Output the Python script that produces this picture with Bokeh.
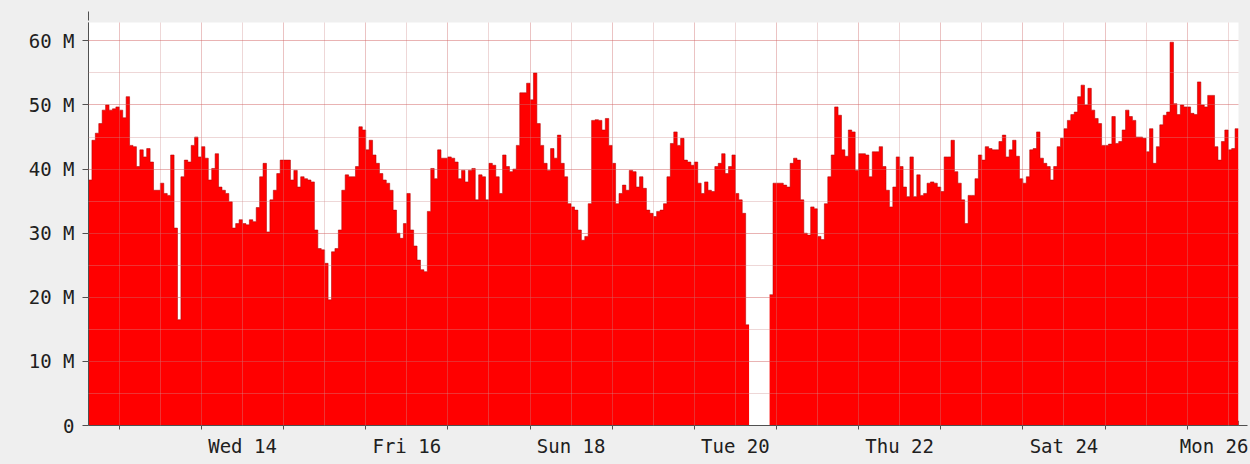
import numpy as np
from bokeh.plotting import figure
from bokeh.models import LinearAxis, FixedTicker, Grid, Range1d, Arrow, NormalHead
from bokeh.embed import file_html
from bokeh.resources import INLINE

# ---------------- data ----------------
# hourly traffic (millions), first hour starts 33 h before Wed 14 00:00
start_hour = -33
nan = float("nan")
traffic_M = [
    38.3, 44.5, 45.6, 47.1, 49.2, 50.0, 49.2, 49.4, 49.7, 49.2, 48.0, 51.3, 43.7, 43.5, 40.4, 43.0,
    41.9, 43.2, 41.1, 36.7, 36.7, 37.8, 36.2, 35.9, 42.2, 30.8, 16.5, 38.8, 41.4, 41.1, 43.7, 45.0,
    41.9, 43.5, 41.7, 38.3, 40.1, 42.4, 37.2, 36.7, 36.2, 34.9, 30.8, 31.5, 32.1, 31.5, 31.3, 32.1,
    31.8, 34.0, 38.8, 40.9, 30.2, 35.2, 36.7, 39.3, 41.4, 41.4, 41.4, 38.3, 39.8, 37.2, 38.8, 38.5,
    38.3, 38.0, 30.5, 27.6, 27.4, 25.3, 19.6, 27.1, 27.6, 30.5, 36.7, 39.1, 38.8, 38.8, 40.4, 46.6,
    46.1, 43.0, 44.5, 42.2, 40.9, 39.3, 38.3, 37.8, 36.7, 33.6, 30.0, 29.2, 31.5, 36.2, 30.5, 28.0,
    25.8, 24.3, 24.0, 33.4, 40.1, 38.5, 43.0, 41.7, 41.7, 41.9, 41.7, 41.1, 38.5, 39.8, 38.0, 39.8,
    40.1, 35.2, 39.1, 38.8, 35.2, 40.9, 40.6, 38.8, 36.2, 42.2, 40.4, 39.6, 40.0, 43.7, 51.9, 51.9,
    53.4, 50.8, 55.0, 47.1, 43.7, 40.9, 39.8, 43.2, 41.7, 45.3, 40.9, 38.8, 34.6, 34.1, 33.6, 30.5,
    28.9, 29.5, 34.6, 47.6, 47.7, 47.6, 46.1, 47.9, 43.7, 40.9, 34.6, 36.2, 37.5, 36.7, 39.8, 39.6,
    37.2, 38.8, 37.0, 33.6, 33.1, 32.6, 33.4, 33.6, 34.6, 38.8, 44.0, 45.8, 43.7, 44.8, 41.4, 41.1,
    40.6, 41.1, 37.8, 36.2, 38.0, 36.7, 36.5, 40.4, 40.9, 42.4, 39.3, 40.4, 42.2, 36.2, 35.2, 33.1,
    15.7, nan, nan, nan, nan, nan, nan, 20.4, 37.8, 37.8, 37.8, 37.5, 37.2, 40.9, 41.7, 41.4,
    35.2, 30.0, 29.7, 34.1, 33.8, 29.5, 29.0, 34.6, 38.8, 42.2, 49.7, 48.4, 43.0, 42.0, 46.1, 45.8,
    39.8, 42.4, 42.4, 42.2, 38.8, 42.7, 42.7, 43.5, 40.4, 36.7, 34.1, 37.2, 41.9, 40.4, 37.2, 35.7,
    41.9, 35.7, 39.1, 35.9, 36.2, 37.8, 38.0, 37.8, 37.2, 36.5, 41.9, 41.9, 44.5, 39.6, 37.8, 35.2,
    31.5, 35.9, 35.9, 38.5, 42.2, 41.4, 43.5, 43.2, 43.0, 43.0, 44.3, 45.3, 41.9, 43.0, 44.5, 42.0,
    38.5, 37.8, 38.8, 43.0, 43.2, 45.8, 41.7, 40.9, 40.4, 38.3, 40.4, 43.5, 44.8, 46.3, 47.6, 48.5,
    48.9, 51.3, 53.1, 50.0, 52.6, 49.2, 47.9, 47.1, 43.7, 43.7, 43.9, 48.2, 44.0, 44.3, 46.1, 49.2,
    48.2, 47.6, 45.0, 45.0, 44.8, 42.7, 46.3, 40.9, 43.5, 46.9, 48.4, 48.9, 59.8, 50.2, 48.5, 50.0,
    49.7, 49.7, 48.7, 48.5, 53.6, 50.0, 49.7, 51.5, 51.5, 43.5, 41.4, 44.3, 46.1, 43.0, 43.2, 46.3,
]
day_label_hours = [12, 60, 108, 156, 204, 252, 300]
day_labels = ["Wed 14", "Fri 16", "Sun 18", "Tue 20", "Thu 22", "Sat 24", "Mon 26"]
day_bound_hours = [-24, 0, 24, 48, 72, 96, 120, 144, 168, 192, 216, 240, 264, 288]
half_day_hours = [-12, 12, 36, 60, 84, 108, 132, 156, 180, 204, 228, 252, 276, 300]
y_ticks = [0, 10, 20, 30, 40, 50, 60]
y_labels = ["0", "10 M", "20 M", "30 M", "40 M", "50 M", "60 M"]
y_minor = [5, 15, 25, 35, 45, 55]
y_top = 62.87

FONT = "DejaVu Sans Mono"
BG = "#EFEFEF"
W, H = 1248, 462
FRAME_L, FRAME_T, FRAME_W, FRAME_H = 88, 22, 1150, 403

vals = np.array(traffic_M, dtype=float)
n = len(vals)
edges = start_hour + np.arange(n + 1, dtype=float)
x_end = float(edges[-1])

p = figure(width=W, height=H, output_backend="svg", toolbar_location=None,
           x_range=Range1d(start_hour, x_end), y_range=Range1d(0, y_top),
           x_axis_location=None, y_axis_location=None,
           min_border_left=FRAME_L, min_border_right=W - FRAME_L - FRAME_W,
           min_border_top=FRAME_T, min_border_bottom=H - FRAME_T - FRAME_H,
           background_fill_color="white", border_fill_color=BG, outline_line_color=None)
p.grid.visible = False

# ---------------- area (step) ----------------
valid = ~np.isnan(vals)
i = 0
while i < n:
    if valid[i]:
        j = i
        while j < n and valid[j]:
            j += 1
        xs = np.repeat(edges[i:j + 1], 2)[1:-1]
        ys = np.repeat(vals[i:j], 2)
        p.varea(x=xs, y1=np.zeros_like(ys), y2=ys, fill_color="#FF0000")
        p.line(x=xs, y=ys, line_color="#B00000", line_width=1, line_alpha=0.55)
        i = j
    else:
        i += 1

# ---------------- grids (drawn over the area, as rrdtool does) ----------------
xg = Grid(dimension=0, ticker=FixedTicker(ticks=day_bound_hours, minor_ticks=half_day_hours),
          grid_line_color="#D07070", grid_line_alpha=0.42,
          minor_grid_line_color="#D09090", minor_grid_line_alpha=0.36, level="annotation")
yg = Grid(dimension=1, ticker=FixedTicker(ticks=y_ticks[1:], minor_ticks=y_minor),
          grid_line_color="#D06060", grid_line_alpha=0.48,
          minor_grid_line_color="#D09090", minor_grid_line_alpha=0.36, level="annotation")
p.add_layout(xg)
p.add_layout(yg)

# ---------------- axes ----------------
yax = LinearAxis(ticker=FixedTicker(ticks=y_ticks),
                 major_label_overrides={t: s for t, s in zip(y_ticks, y_labels)},
                 axis_line_color="#505050", major_tick_line_color="#505050",
                 major_tick_out=6, major_tick_in=0, minor_tick_out=0, minor_tick_in=0,
                 major_label_standoff=8, major_label_text_font=FONT,
                 major_label_text_font_size="19px", major_label_text_color="#202020")
p.add_layout(yax, "left")

xticks_ax = LinearAxis(ticker=FixedTicker(ticks=day_bound_hours),
                       major_label_overrides={t: "" for t in day_bound_hours},
                       axis_line_color="#505050", major_tick_line_color="#505050",
                       major_tick_out=4, major_tick_in=0, minor_tick_out=0, minor_tick_in=0,
                       major_label_standoff=0, major_label_text_font_size="0px")
p.add_layout(xticks_ax, "below")

xlab_ax = LinearAxis(ticker=FixedTicker(ticks=day_label_hours),
                     major_label_overrides={t: s for t, s in zip(day_label_hours, day_labels)},
                     axis_line_color=None, major_tick_line_color=None,
                     major_tick_out=0, major_tick_in=0, minor_tick_out=0, minor_tick_in=0,
                     major_label_standoff=5, major_label_text_font=FONT,
                     major_label_text_font_size="19px", major_label_text_color="#202020")
p.add_layout(xlab_ax, "below")

# ---------------- axis arrows ----------------
px_y = y_top / FRAME_H
px_x = (x_end - start_hour) / FRAME_W
p.add_layout(Arrow(x_start=start_hour, y_start=y_top - 2 * px_y, x_end=start_hour, y_end=y_top + 11 * px_y,
                   line_color="#505050", line_width=1,
                   end=NormalHead(size=9, fill_color="#800000", line_color="#800000", line_width=1)))
p.add_layout(Arrow(x_start=x_end - 2 * px_x, y_start=0, x_end=x_end + 9 * px_x, y_end=0,
                   line_color="#505050", line_width=1,
                   end=NormalHead(size=9, fill_color="#800000", line_color="#800000", line_width=1)))

html = file_html(p, INLINE)
html = html.replace("</head>", "<style>body{background:#EFEFEF;}</style></head>", 1)
open("out.html", "w").write(html)
